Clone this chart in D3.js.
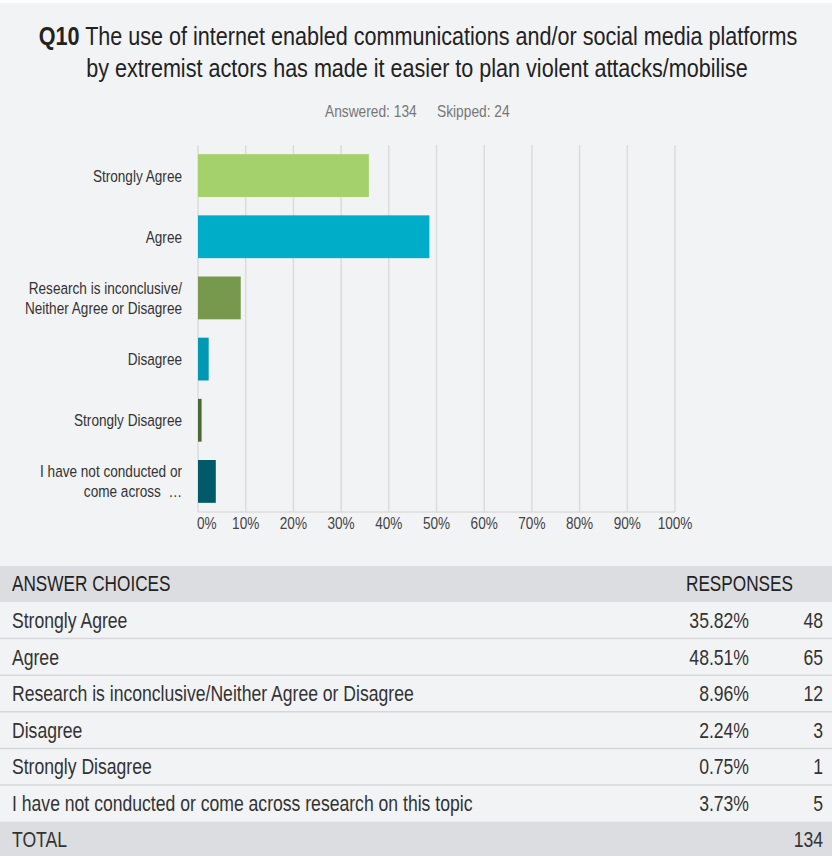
<!DOCTYPE html>
<html>
<head>
<meta charset="utf-8">
<script src="https://cdn.jsdelivr.net/npm/d3@7"></script>
<style>
  body { margin: 0; background: #fff; }
  text { font-family: "Liberation Sans Narrow", "Liberation Sans", Arial, sans-serif; }
</style>
</head>
<body>
<div id="chart"></div>
<script>
// answer choices, short labels for the chart, full labels for the table
const chartLabels = [
  ["Strongly Agree"],
  ["Agree"],
  ["Research is inconclusive/", "Neither Agree or Disagree"],
  ["Disagree"],
  ["Strongly Disagree"],
  ["I have not conducted or", "come across  \u2026"]
];
const tableLabels = [
  "Strongly Agree",
  "Agree",
  "Research is inconclusive/Neither Agree or Disagree",
  "Disagree",
  "Strongly Disagree",
  "I have not conducted or come across research on this topic"
];
const percents = [35.82, 48.51, 8.96, 2.24, 0.75, 3.73];
const counts = [48, 65, 12, 3, 1, 5];
const barColors = ["#a4d16c", "#00adc8", "#77994d", "#0098b2", "#4b6a31", "#005a68"];
const xTicks = [0, 10, 20, 30, 40, 50, 60, 70, 80, 90, 100];
const answered = 134, skipped = 24;

const width = 832, height = 856;
const squeeze = 0.8; // the condensed face isn't available, so narrow the regular one

const svg = d3.select("#chart").append("svg")
  .attr("width", width)
  .attr("height", height);

// text helper: places a horizontally squeezed label at x,y
function label(parent, x, y, size, color, sx = squeeze) {
  return parent.append("text")
    .attr("transform", `translate(${x},${y}) scale(${sx},1)`)
    .attr("font-size", size + "px")
    .attr("fill", color)
    .attr("xml:space", "preserve");
}

// background
svg.append("rect")
  .attr("x", 0).attr("y", 3)
  .attr("width", width).attr("height", height - 3)
  .attr("fill", "#f2f3f5");

// title
const title = label(svg, 418, 45, 26, "#222", 0.83).attr("text-anchor", "middle");
title.append("tspan").attr("font-weight", "bold").text("Q10");
title.append("tspan").text(" The use of internet enabled communications and/or social media platforms");
label(svg, 417, 77, 26, "#222", 0.83)
  .attr("text-anchor", "middle")
  .text("by extremist actors has made it easier to plan violent attacks/mobilise");

label(svg, 325, 117, 16, "#777", 0.86).text(`Answered: ${answered}`);
label(svg, 437, 117, 16, "#777", 0.86).text(`Skipped: ${skipped}`);

// bar chart
const x = d3.scaleLinear().domain([0, 100]).range([198, 675]);
const y = d3.scaleBand().domain(d3.range(percents.length)).range([145, 512]).paddingInner(0.3).paddingOuter(0.15);

const g = svg.append("g");

g.selectAll(".grid")
  .data(xTicks)
  .join("line")
  .attr("class", "grid")
  .attr("x1", d => x(d)).attr("x2", d => x(d))
  .attr("y1", 145).attr("y2", 512)
  .attr("stroke", "#dcdcdc")
  .attr("stroke-width", 1.5);

g.append("line")
  .attr("x1", x(0)).attr("x2", x(100))
  .attr("y1", 512).attr("y2", 512)
  .attr("stroke", "#dcdcdc")
  .attr("stroke-width", 1.5);

g.selectAll(".bar")
  .data(percents)
  .join("rect")
  .attr("class", "bar")
  .attr("x", x(0))
  .attr("y", (d, i) => y(i))
  .attr("width", d => x(d) - x(0))
  .attr("height", y.bandwidth())
  .attr("fill", (d, i) => barColors[i]);

xTicks.forEach(d => {
  label(g, d === 0 ? x(d) - 1 : x(d), 529, 17, "#444")
    .attr("text-anchor", d === 0 ? "start" : "middle")
    .text(d + "%");
});

chartLabels.forEach((lines, i) => {
  const cy = y(i) + y.bandwidth() / 2;
  lines.forEach((line, j) => {
    label(g, 182, cy + 6 + (j - (lines.length - 1) / 2) * 20, 17, "#333")
      .attr("text-anchor", "end")
      .text(line);
  });
});

// table
const tableTop = 566, headH = 36, rowH = 36.6;
const tbl = svg.append("g");

tbl.append("rect")
  .attr("x", 0).attr("y", tableTop)
  .attr("width", width).attr("height", headH)
  .attr("fill", "#dcdde0");
label(tbl, 12, tableTop + 25, 21.5, "#222").text("ANSWER CHOICES");
label(tbl, 686, tableTop + 25, 21.5, "#222").text("RESPONSES");

tableLabels.forEach((name, i) => {
  const top = tableTop + headH + i * rowH;
  if (i > 0) {
    tbl.append("line")
      .attr("x1", 0).attr("x2", width)
      .attr("y1", top).attr("y2", top)
      .attr("stroke", "#d6d7da").attr("stroke-width", 1.5);
  }
  label(tbl, 12, top + 26, 22, "#333").text(name);
  label(tbl, 749, top + 26, 22, "#333")
    .attr("text-anchor", "end")
    .text(percents[i].toFixed(2) + "%");
  label(tbl, 823, top + 26, 22, "#333")
    .attr("text-anchor", "end")
    .text(counts[i]);
});

const totalTop = tableTop + headH + tableLabels.length * rowH;
tbl.append("rect")
  .attr("x", 0).attr("y", totalTop)
  .attr("width", width).attr("height", height - totalTop)
  .attr("fill", "#dcdde0");
label(tbl, 12, totalTop + 25, 22, "#333").text("TOTAL");
label(tbl, 823, totalTop + 25, 22, "#333")
  .attr("text-anchor", "end")
  .text(d3.sum(counts));
</script>
</body>
</html>
